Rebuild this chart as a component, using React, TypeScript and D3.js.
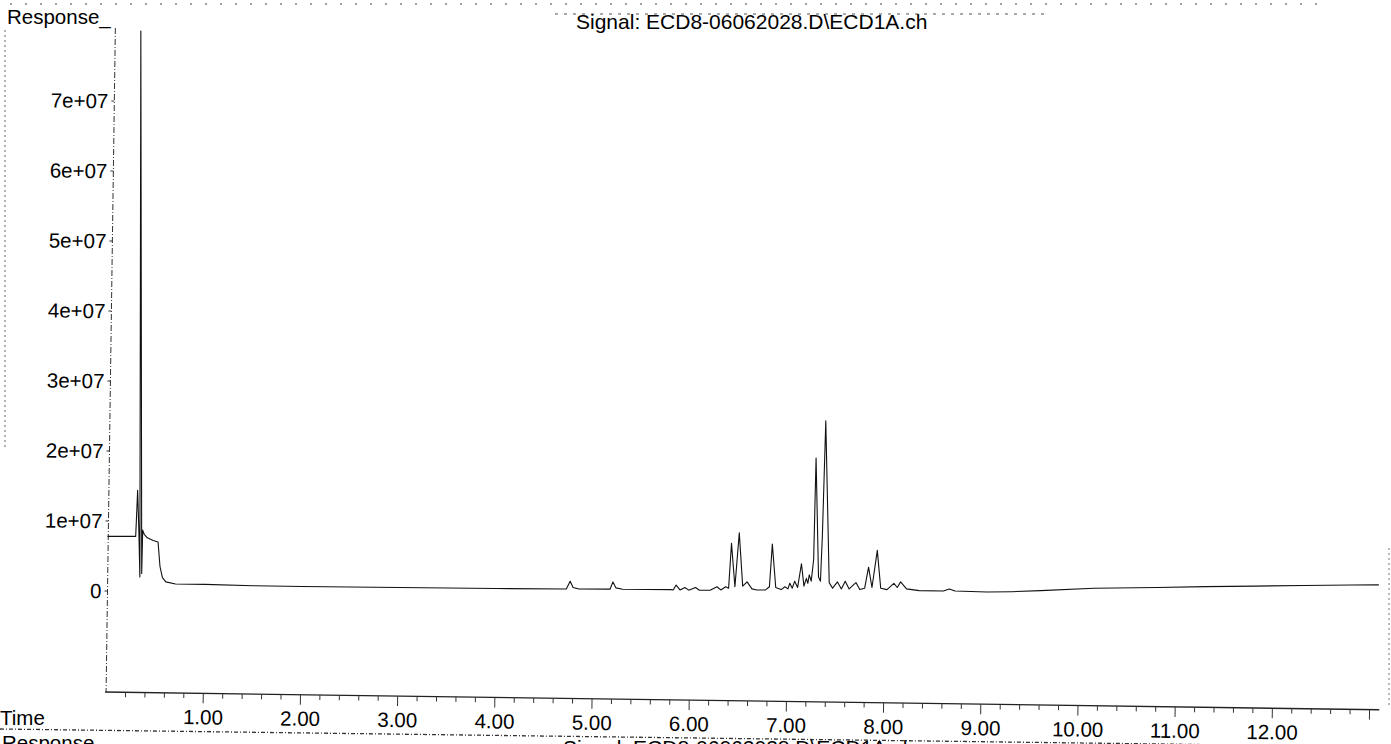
import React from "react";
import * as d3 from "d3";

// chromatogram: [retention time (min), response]
const SOLVENT_FRONT: [number, number][] = [
  [0.0, 7.8e6], [0.29, 7.8e6], [0.3, 11.0e6], [0.31, 14.4e6], [0.322, 9.0e6],
  [0.333, 2.0e6], [0.343, 80.0e6], [0.352, 2.5e6], [0.362, 8.7e6], [0.378, 8.1e6],
  [0.41, 7.6e6], [0.47, 7.2e6], [0.52, 7.0e6], [0.54, 3.5e6], [0.565, 1.9e6],
  [0.6, 1.3e6], [0.7, 1.0e6],
];

const EARLY_BASELINE: [number, number][] = [
  [1.0, 0.95e6], [1.5, 0.75e6], [2.0, 0.65e6], [3.0, 0.5e6], [4.0, 0.35e6],
  [4.72, 0.28e6], [4.76, 1.4e6], [4.79, 0.5e6], [4.85, 0.28e6],
  [5.17, 0.26e6], [5.2, 1.3e6], [5.23, 0.45e6], [5.3, 0.25e6], [5.8, 0.2e6],
];

const PEAK_CLUSTER: [number, number][] = [
  [5.82, 0.15e6], [5.85, 0.85e6], [5.89, 0.15e6], [5.94, 0.5e6], [5.98, 0.12e6],
  [6.05, 0.5e6], [6.09, 0.1e6], [6.2, 0.1e6], [6.27, 0.6e6], [6.31, 0.15e6],
  [6.36, 0.6e6], [6.39, 0.4e6], [6.42, 6.8e6], [6.455, 0.6e6], [6.5, 8.3e6],
  [6.535, 0.7e6], [6.58, 1.3e6], [6.63, 0.3e6], [6.68, 0.15e6], [6.77, 0.15e6],
  [6.81, 0.6e6], [6.84, 6.7e6], [6.875, 0.5e6], [6.93, 0.2e6], [6.97, 0.6e6],
  [7.0, 0.3e6], [7.02, 1.1e6], [7.045, 0.4e6], [7.07, 1.4e6], [7.1, 0.5e6],
  [7.14, 3.9e6], [7.165, 0.7e6], [7.19, 1.8e6], [7.205, 1.1e6], [7.22, 2.3e6],
  [7.24, 1.4e6], [7.265, 4.5e6], [7.29, 19.0e6], [7.315, 2.0e6], [7.335, 1.4e6],
  [7.355, 8.0e6], [7.39, 24.3e6], [7.425, 1.2e6], [7.46, 0.4e6], [7.51, 1.3e6],
  [7.55, 0.3e6], [7.59, 1.4e6], [7.63, 0.3e6], [7.7, 1.2e6], [7.74, 0.2e6],
  [7.79, 0.4e6], [7.83, 3.4e6], [7.865, 0.5e6], [7.92, 5.8e6], [7.955, 0.4e6],
  [8.02, 0.2e6], [8.09, 1.1e6], [8.125, 0.5e6], [8.16, 1.3e6], [8.22, 0.3e6],
  [8.35, 0.05e6],
];

const LATE_BASELINE: [number, number][] = [
  [8.6, 0.0], [8.66, 0.3e6], [8.72, 0.0], [9.05, -0.15e6], [9.3, -0.1e6],
  [9.6, 0.05e6], [10.15, 0.4e6], [10.8, 0.5e6], [11.3, 0.62e6], [11.8, 0.7e6],
  [12.3, 0.78e6], [12.8, 0.85e6], [13.08, 0.88e6],
];

const X_TICK_VALUES = [1, 2, 3, 4, 5, 6, 7, 8, 9, 10, 11, 12];
const X_TICK_LABELS = ["1.00", "2.00", "3.00", "4.00", "5.00", "6.00", "7.00", "8.00", "9.00", "10.00", "11.00", "12.00"];
const Y_TICK_VALUES = [0, 1e7, 2e7, 3e7, 4e7, 5e7, 6e7, 7e7];
const Y_TICK_LABELS = ["0", "1e+07", "2e+07", "3e+07", "4e+07", "5e+07", "6e+07", "7e+07"];

const TITLE = "Signal: ECD8-06062028.D\\ECD1A.ch";

const W = 1391;
const H = 744;
const FONT = "'Liberation Sans', Arial, Helvetica, sans-serif";
const TILT = 0.8; // the scan is slightly rotated

export default function App() {
  const x = d3.scaleLinear().domain([0, 13.1]).range([107.5, 1380.8]);
  const y = d3.scaleLinear().domain([-14.43e6, 80.43e6]).range([692, 28]);

  const points = [...SOLVENT_FRONT, ...EARLY_BASELINE, ...PEAK_CLUSTER, ...LATE_BASELINE];
  const line = d3.line<[number, number]>().x(d => x(d[0])).y(d => y(d[1]));

  const x0 = x(0);
  const yBase = y.range()[0];
  const yTop = y.range()[1];
  // 0.2 min minor ticks, every fifth is a whole minute
  const ticks = d3.range(1, 66).map(i => ({ t: i * 0.2, major: i % 5 === 0 }));

  return (
    <svg width={W} height={H} style={{ position: "absolute", left: 0, top: 0, background: "#fff" }}
      fontFamily={FONT}>
      <rect width={W} height={H} fill="#fff" />

      {/* scan borders */}
      <line x1={10} x2={1320} y1={4} y2={4} stroke="#444" strokeDasharray="2 13" />
      <line x1={555} x2={1050} y1={14} y2={14} stroke="#555" strokeDasharray="3 6" />
      <line x1={5} x2={5} y1={30} y2={450} stroke="#666" strokeDasharray="2 3" />
      <line x1={1389} x2={1389} y1={548} y2={705} stroke="#777" strokeDasharray="2 3" />
      <line x1={0} x2={W} y1={729} y2={747} stroke="#333" strokeWidth={1.3} strokeDasharray="4 2 1 2" />

      <text x={7} y={24} fontSize={20.5} fill="#000">Response_</text>
      <text x={576} y={28.5} fontSize={21} fill="#000">{TITLE}</text>
      <text x={0} y={725} fontSize={20.5} fill="#000">Time</text>
      <text x={2} y={750} fontSize={20.5} fill="#000">Response_</text>
      <text x={563} y={755} fontSize={21} fill="#000">{TITLE}</text>

      <g transform={`rotate(${TILT}, ${x0}, ${y(0)})`}>
        <line x1={x0} x2={x0} y1={yTop} y2={yBase} stroke="#333" strokeWidth={1}
          strokeDasharray="6 2 1 2" />
        {Y_TICK_VALUES.map((v, i) => (
          <g key={v}>
            <line x1={x0 - 3} x2={x0} y1={y(v)} y2={y(v)} stroke="#333" />
            <text x={x0 - 6} y={y(v) + 7.3} textAnchor="end" fontSize={20.5} fill="#000">
              {Y_TICK_LABELS[i]}
            </text>
          </g>
        ))}

        <line x1={x0 - 1} x2={x.range()[1]} y1={yBase} y2={yBase} stroke="#222" strokeWidth={1.3} />
        {ticks.map(tk => (
          <line key={tk.t} x1={x(tk.t)} x2={x(tk.t)} y1={yBase} y2={yBase + (tk.major ? 10 : 5)}
            stroke="#333" strokeWidth={1} />
        ))}
        {X_TICK_VALUES.map((v, i) => (
          <text key={v} x={x(v)} y={yBase + 31} textAnchor="middle" fontSize={20.5} fill="#000">
            {X_TICK_LABELS[i]}
          </text>
        ))}
      </g>

      <path d={line(points) ?? ""} fill="none" stroke="#111" strokeWidth={1.1} strokeLinejoin="round" />
    </svg>
  );
}
